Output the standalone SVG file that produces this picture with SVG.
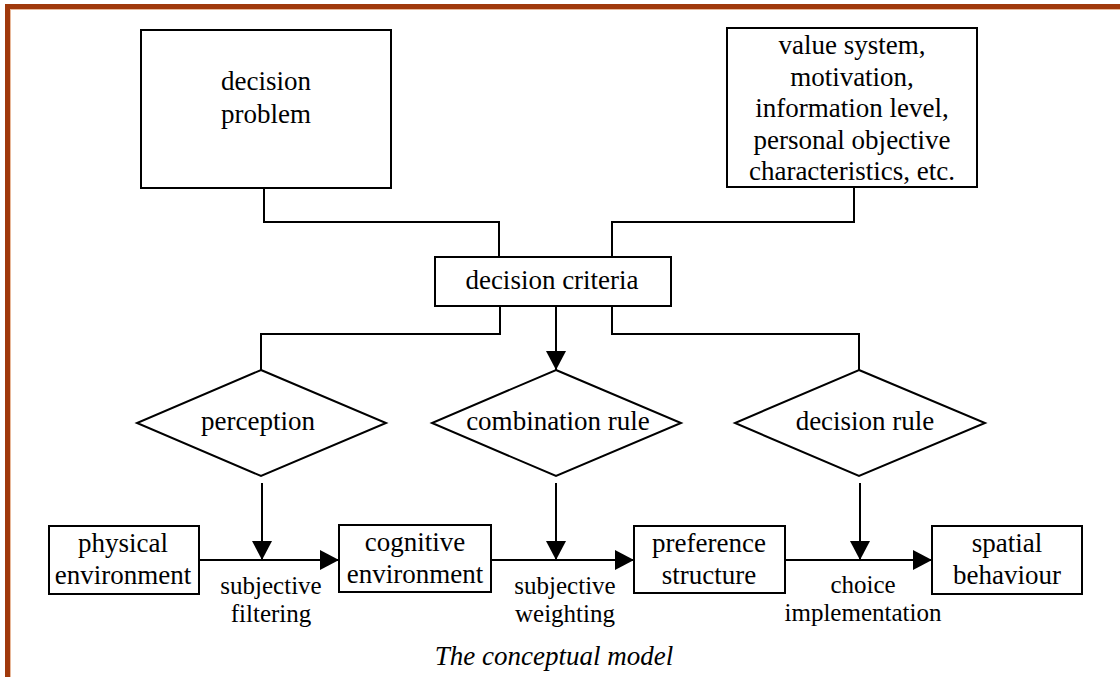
<svg xmlns="http://www.w3.org/2000/svg" width="1120" height="677" viewBox="0 0 1120 677">
<style>
.box{fill:#fff;stroke:#000;stroke-width:2}
.ln{fill:none;stroke:#000;stroke-width:2}
text{font-family:'Liberation Serif','Tinos','DejaVu Serif',serif;fill:#000;text-anchor:middle}
.t{font-size:27px}
.s{font-size:25px}
.cap{font-size:27px;font-style:italic}
</style>
<defs>
<marker id="arr" markerUnits="userSpaceOnUse" markerWidth="20" markerHeight="20" viewBox="0 0 20 20" refX="19" refY="10" orient="auto">
<path d="M0,0 L19,10 L0,20 Z" fill="#000"/>
</marker>
</defs>
<rect x="0" y="0" width="1120" height="677" fill="#fff"/>
<g id="frame">
<rect x="5" y="4" width="1115" height="5" fill="#A0390C"/>
<rect x="5" y="4" width="5" height="673" fill="#A0390C"/>
<line x1="10" y1="9.5" x2="1120" y2="9.5" stroke="#E8B89A" stroke-width="1"/>
<line x1="10.5" y1="9" x2="10.5" y2="677" stroke="#E8B89A" stroke-width="1"/>
</g>
<g id="connectors">
<polyline class="ln" points="264,188 264,222 499,222 499,257"/>
<polyline class="ln" points="854,187 854,222 612,222 612,257"/>
<polyline class="ln" points="500,306 500,334 261,334 261,370"/>
<polyline class="ln" points="612,306 612,334 859,334 859,370"/>
<line class="ln" x1="556" y1="306" x2="556" y2="370" marker-end="url(#arr)"/>
<line class="ln" x1="262" y1="483" x2="262" y2="560" marker-end="url(#arr)"/>
<line class="ln" x1="556" y1="483" x2="556" y2="560" marker-end="url(#arr)"/>
<line class="ln" x1="860" y1="483" x2="860" y2="560" marker-end="url(#arr)"/>
<line class="ln" x1="199" y1="560" x2="339" y2="560" marker-end="url(#arr)"/>
<line class="ln" x1="491" y1="560" x2="634" y2="560" marker-end="url(#arr)"/>
<line class="ln" x1="785" y1="560" x2="932" y2="560" marker-end="url(#arr)"/>
<text class="s" x="271" y="594">subjective</text>
<text class="s" x="271" y="622">filtering</text>
<text class="s" x="565" y="594">subjective</text>
<text class="s" x="565" y="622">weighting</text>
<text class="s" x="863" y="593">choice</text>
<text class="s" x="863" y="621">implementation</text>
</g>
<g id="decision-problem">
<rect class="box" x="141" y="30" width="250" height="158"/>
<text class="t" x="266" y="90">decision</text>
<text class="t" x="266" y="123">problem</text>
</g>
<g id="personal-factors">
<rect class="box" x="727" y="28" width="250" height="159"/>
<text class="t" x="852" y="54">value system,</text>
<text class="t" x="852" y="85.5">motivation,</text>
<text class="t" x="852" y="117">information level,</text>
<text class="t" x="852" y="148.5">personal objective</text>
<text class="t" x="852" y="180">characteristics, etc.</text>
</g>
<g id="decision-criteria">
<rect class="box" x="435" y="257" width="236" height="49"/>
<text class="t" x="552" y="289">decision criteria</text>
</g>
<g id="perception">
<polygon class="box" points="261,370 386,423 261,476 137,423"/>
<text class="t" x="258" y="430">perception</text>
</g>
<g id="combination-rule">
<polygon class="box" points="556,370 681,423 556,476 432,423"/>
<text class="t" x="558" y="430">combination rule</text>
</g>
<g id="decision-rule">
<polygon class="box" points="859,370 985,423 859,476 735,423"/>
<text class="t" x="865" y="430">decision rule</text>
</g>
<g id="physical-environment">
<rect class="box" x="49" y="526" width="150" height="68"/>
<text class="t" x="123" y="552">physical</text>
<text class="t" x="123" y="584">environment</text>
</g>
<g id="cognitive-environment">
<rect class="box" x="339" y="525" width="152" height="67"/>
<text class="t" x="415" y="551">cognitive</text>
<text class="t" x="415" y="583">environment</text>
</g>
<g id="preference-structure">
<rect class="box" x="634" y="526" width="151" height="67"/>
<text class="t" x="709" y="552">preference</text>
<text class="t" x="709" y="584">structure</text>
</g>
<g id="spatial-behaviour">
<rect class="box" x="932" y="526" width="150" height="68"/>
<text class="t" x="1007" y="552">spatial</text>
<text class="t" x="1007" y="584">behaviour</text>
</g>
<text class="cap" x="554" y="665">The conceptual model</text>
</svg>
